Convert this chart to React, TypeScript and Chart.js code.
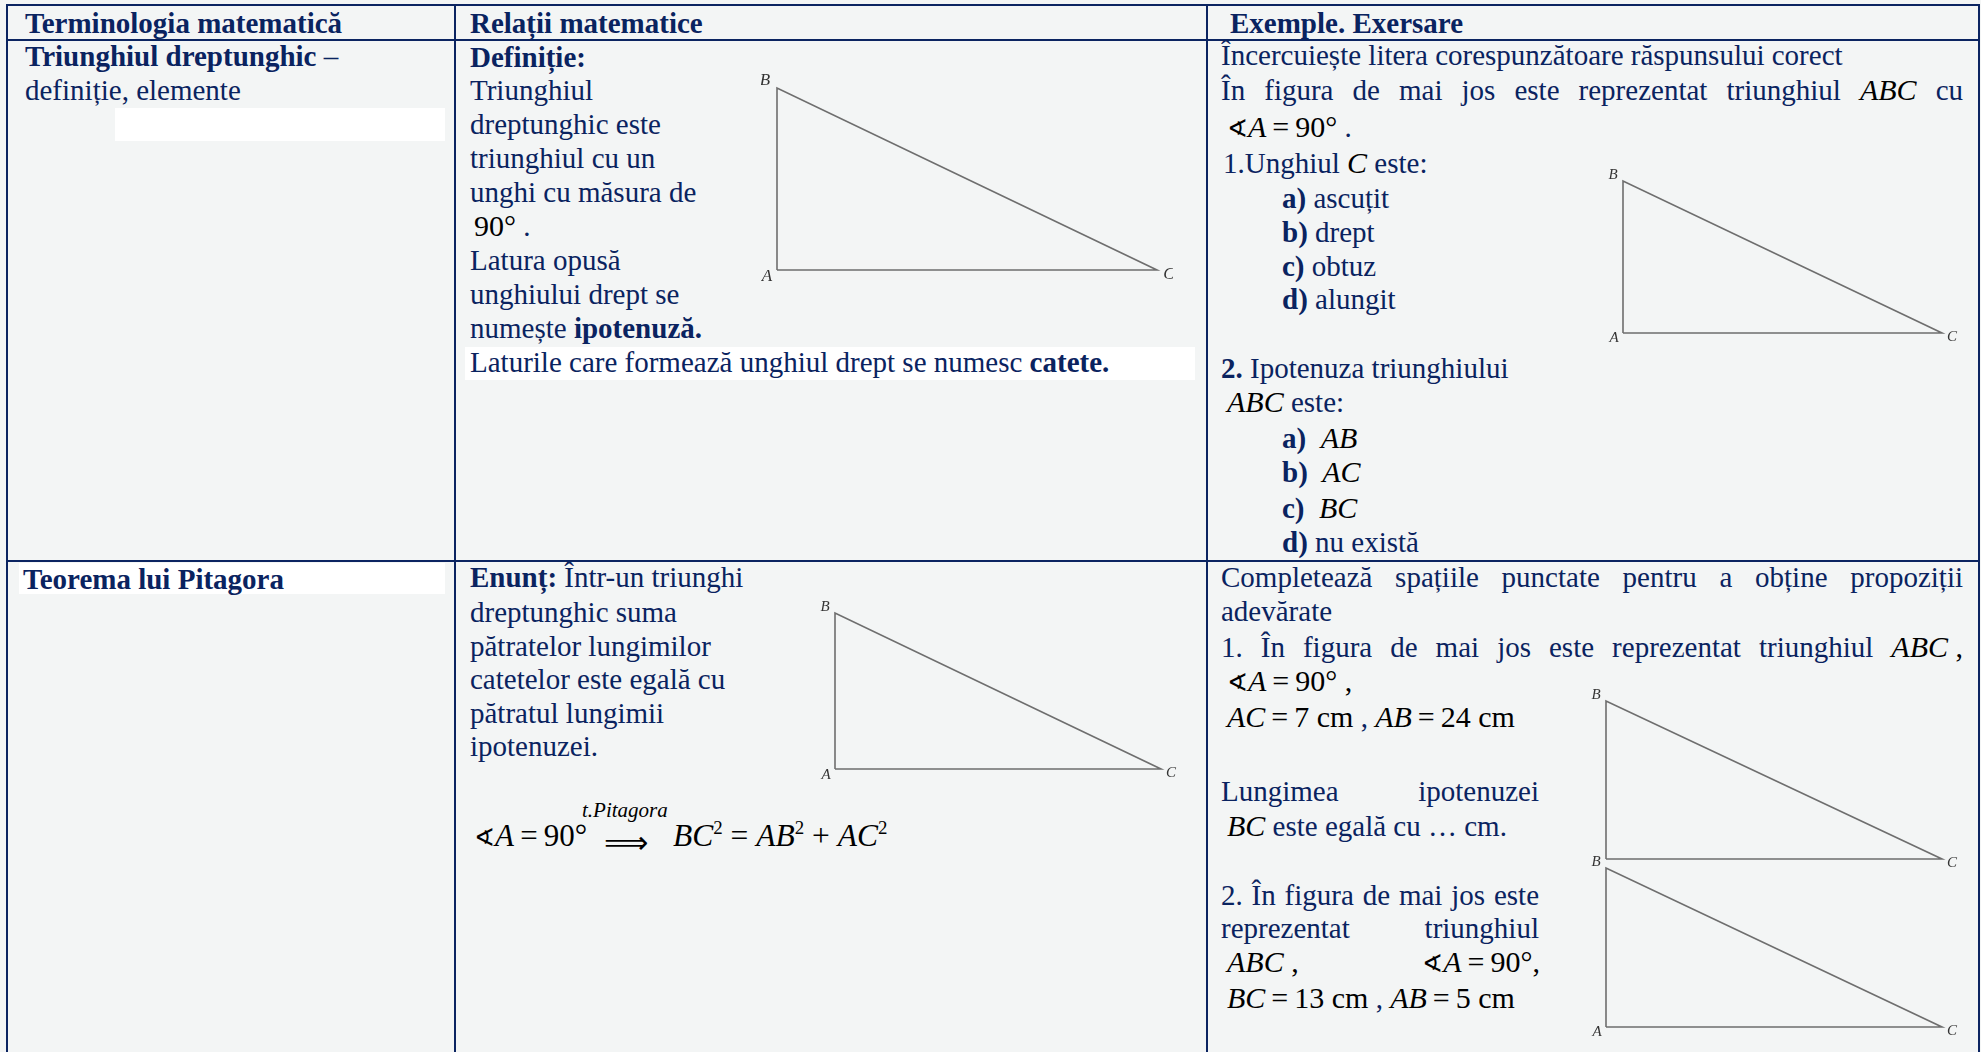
import React, { useEffect, useRef } from "react";
import { Chart, registerables } from "chart.js";

Chart.register(...registerables);

// ---------------- data ----------------
// vertices of the right triangle (A is the right angle), in the drawing's own units
const vertexNames = ["A", "B", "C"];
const catetaAB = 10; // vertical leg as drawn
const catetaAC = 21; // horizontal leg as drawn
const triangleX = [0, 0, catetaAC, 0]; // A, B, C, back to A
const triangleY = [0, catetaAB, 0, 0];

// ---------------- layout / style ----------------
const TEXT = "#0a2360";
const RULE = "#0b2461";
const BG = "#f3f5f5";
const SERIF = '"Liberation Serif", "Times New Roman", Times, serif';
const EQ = "\u2009=\u2009";

type Fig = {
  ax: number;
  ay: number;
  by: number;
  cx: number;
  font: number;
  show: boolean[];
  off: number[][];
};

const figures: Fig[] = [
  { ax: 777, ay: 270, by: 88, cx: 1157, font: 17, show: [true, true, true], off: [[-10, 7], [-12, -7], [12, 5]] },
  { ax: 1623, ay: 333, by: 181, cx: 1942, font: 15, show: [true, true, true], off: [[-9, 5], [-10, -6], [10, 4]] },
  { ax: 835, ay: 769, by: 613, cx: 1161, font: 15, show: [true, true, true], off: [[-9, 6], [-10, -6], [10, 4]] },
  { ax: 1606, ay: 859, by: 701, cx: 1942, font: 15, show: [false, true, true], off: [[-9, 5], [-10, -6], [10, 4]] },
  { ax: 1606, ay: 1027, by: 868, cx: 1942, font: 15, show: [true, true, true], off: [[-9, 5], [-10, -6], [10, 4]] },
];

const PAD = 16;

function Triangle({ fig }: { fig: Fig }) {
  const ref = useRef<HTMLCanvasElement | null>(null);
  const w = fig.cx - fig.ax + PAD * 2;
  const h = fig.ay - fig.by + PAD * 2;
  useEffect(() => {
    if (!ref.current) return;
    const labelPlugin = {
      id: "vertexLabels",
      afterDatasetsDraw(chart: any) {
        const meta = chart.getDatasetMeta(0);
        const ctx = chart.ctx;
        ctx.save();
        ctx.font = `italic ${fig.font}px ${SERIF}`;
        ctx.fillStyle = "#333333";
        ctx.textAlign = "center";
        ctx.textBaseline = "middle";
        vertexNames.forEach((name, i) => {
          if (!fig.show[i]) return;
          const p = meta.data[i];
          ctx.fillText(name, p.x + fig.off[i][0], p.y + fig.off[i][1]);
        });
        ctx.restore();
      },
    };
    const chart = new Chart(ref.current, {
      type: "scatter",
      data: {
        datasets: [
          {
            data: triangleX.map((x, i) => ({ x, y: triangleY[i] })),
            showLine: true,
            borderColor: "#6e6e6e",
            borderWidth: 1.6,
            pointRadius: 0,
            fill: false,
            tension: 0,
            clip: false as any,
          },
        ],
      },
      options: {
        animation: false,
        responsive: false,
        events: [],
        layout: { padding: PAD },
        plugins: { legend: { display: false }, tooltip: { enabled: false } },
        scales: {
          x: { type: "linear", display: false, min: 0, max: catetaAC },
          y: { type: "linear", display: false, min: 0, max: catetaAB },
        },
      },
      plugins: [labelPlugin],
    });
    return () => chart.destroy();
  }, []);
  return (
    <canvas
      ref={ref}
      width={w}
      height={h}
      style={{ position: "absolute", left: fig.ax - PAD, top: fig.by - PAD, width: w, height: h }}
    />
  );
}

function Ln({ x, b, w, j, children }: { x: number; b: number; w?: number; j?: boolean; children: any }) {
  return (
    <div
      style={{
        position: "absolute",
        left: x,
        top: b - 27,
        width: w ?? 760,
        height: 34,
        lineHeight: "34px",
        fontSize: 29,
        whiteSpace: j ? "normal" : "nowrap",
        textAlign: j ? "justify" : "left",
        textAlignLast: (j ? "justify" : "auto") as any,
        color: TEXT,
      }}
    >
      {children}
    </div>
  );
}

const M = ({ children }: any) => (
  <span style={{ color: "#000", fontSize: 30, display: "inline-block", whiteSpace: "nowrap" }}>{children}</span>
);
const I = ({ children }: any) => <i>{children}</i>;
const B = ({ children }: any) => <b>{children}</b>;
const Ang = () => <span style={{ fontFamily: '"DejaVu Serif", serif', fontSize: 25 }}>∢</span>;
const Sup = ({ children }: any) => (
  <span style={{ fontSize: "0.6em", position: "relative", top: "-0.62em" }}>{children}</span>
);

function Rect({ x, y, w, h, c }: { x: number; y: number; w: number; h: number; c: string }) {
  return <div style={{ position: "absolute", left: x, top: y, width: w, height: h, background: c }} />;
}

export default function App() {
  return (
    <div
      style={{
        position: "fixed",
        left: 0,
        top: 0,
        width: 1981,
        height: 1052,
        overflow: "hidden",
        background: BG,
        fontFamily: SERIF,
        color: TEXT,
      }}
    >
      {/* white highlight fragments */}
      <Rect x={115} y={108} w={330} h={33} c="#ffffff" />
      <Rect x={465} y={347} w={730} h={33} c="#ffffff" />
      <Rect x={19} y={563} w={426} h={31} c="#ffffff" />

      {/* table rules */}
      <Rect x={6} y={4} w={1974} h={2} c={RULE} />
      <Rect x={6} y={39} w={1974} h={2} c={RULE} />
      <Rect x={6} y={560} w={1974} h={2} c={RULE} />
      <Rect x={6} y={4} w={2} h={1048} c={RULE} />
      <Rect x={454} y={4} w={2} h={1048} c={RULE} />
      <Rect x={1206} y={4} w={2} h={1048} c={RULE} />
      <Rect x={1978} y={4} w={2} h={1048} c={RULE} />

      {/* header */}
      <Ln x={25} b={33}><B>Terminologia matematică</B></Ln>
      <Ln x={470} b={33}><B>Relații matematice</B></Ln>
      <Ln x={1230} b={33}><B>Exemple. Exersare</B></Ln>

      {/* column 1 */}
      <Ln x={25} b={66}><B>Triunghiul dreptunghic</B> –</Ln>
      <Ln x={25} b={100}>definiție, elemente</Ln>
      <Ln x={23} b={589}><B>Teorema lui Pitagora</B></Ln>

      {/* column 2, row 1 */}
      <Ln x={470} b={67}><B>Definiție:</B></Ln>
      <Ln x={470} b={100}>Triunghiul</Ln>
      <Ln x={470} b={134}>dreptunghic este</Ln>
      <Ln x={470} b={168}>triunghiul cu un</Ln>
      <Ln x={470} b={202}>unghi cu măsura de</Ln>
      <Ln x={474} b={236}><M>90°</M> .</Ln>
      <Ln x={470} b={270}>Latura opusă</Ln>
      <Ln x={470} b={304}>unghiului drept se</Ln>
      <Ln x={470} b={338}>numește <B>ipotenuză.</B></Ln>
      <Ln x={470} b={372}>Laturile care formează unghiul drept se numesc <B>catete.</B></Ln>

      {/* column 2, row 2 */}
      <Ln x={470} b={587}><B>Enunț:</B> Într-un triunghi</Ln>
      <Ln x={470} b={622}>dreptunghic suma</Ln>
      <Ln x={470} b={656}>pătratelor lungimilor</Ln>
      <Ln x={470} b={689}>catetelor este egală cu</Ln>
      <Ln x={470} b={723}>pătratul lungimii</Ln>
      <Ln x={470} b={756}>ipotenuzei.</Ln>
      <div style={{ position: "absolute", left: 582, top: 797, fontSize: 21, fontStyle: "italic", color: "#000", whiteSpace: "nowrap", lineHeight: "26px" }}>
        t.Pitagora
      </div>
      <div style={{ position: "absolute", left: 474, top: 818, fontSize: 31, color: "#000", whiteSpace: "nowrap", lineHeight: "36px" }}>
        <span style={{ fontFamily: '"DejaVu Serif", serif', fontSize: 25 }}>∢</span><I>A</I>{EQ}90°
      </div>
      <div style={{ position: "absolute", left: 604, top: 824, fontSize: 31, color: "#000", whiteSpace: "nowrap", lineHeight: "36px", fontFamily: '"DejaVu Sans", sans-serif' }}>
        ⟹
      </div>
      <div style={{ position: "absolute", left: 673, top: 818, fontSize: 31.5, color: "#000", whiteSpace: "nowrap", lineHeight: "36px" }}>
        <I>BC</I><Sup>2</Sup> = <I>AB</I><Sup>2</Sup> + <I>AC</I><Sup>2</Sup>
      </div>

      {/* column 3, row 1 */}
      <Ln x={1221} b={65}>Încercuiește litera corespunzătoare răspunsului corect</Ln>
      <Ln x={1221} b={100} w={742} j>
        În figura de mai jos este reprezentat triunghiul <M><I>ABC</I></M> cu
      </Ln>
      <Ln x={1227} b={137}><M><Ang /><I>A</I>{EQ}90°</M> .</Ln>
      <Ln x={1223} b={173}>1.Unghiul <M><I>C</I></M> este:</Ln>
      <Ln x={1282} b={208}><B>a)</B> ascuțit</Ln>
      <Ln x={1282} b={242}><B>b)</B> drept</Ln>
      <Ln x={1282} b={276}><B>c)</B> obtuz</Ln>
      <Ln x={1282} b={309}><B>d)</B> alungit</Ln>
      <Ln x={1221} b={378}><B>2.</B> Ipotenuza triunghiului</Ln>
      <Ln x={1227} b={412}><M><I>ABC</I></M> este:</Ln>
      <Ln x={1282} b={448}><B>a)</B>&nbsp; <M><I>AB</I></M></Ln>
      <Ln x={1282} b={482}><B>b)</B>&nbsp; <M><I>AC</I></M></Ln>
      <Ln x={1282} b={518}><B>c)</B>&nbsp; <M><I>BC</I></M></Ln>
      <Ln x={1282} b={552}><B>d)</B> nu există</Ln>

      {/* column 3, row 2 */}
      <Ln x={1221} b={587} w={742} j>Completează spațiile punctate pentru a obține propoziții</Ln>
      <Ln x={1221} b={621}>adevărate</Ln>
      <Ln x={1221} b={657} w={742} j>
        1. În figura de mai jos este reprezentat triunghiul <M><I>ABC</I> ,</M>
      </Ln>
      <Ln x={1227} b={691}><M><Ang /><I>A</I>{EQ}90° ,</M></Ln>
      <Ln x={1227} b={727}><M><I>AC</I>{EQ}7 cm</M> , <M><I>AB</I>{EQ}24 cm</M></Ln>
      <Ln x={1221} b={801} w={318} j>Lungimea ipotenuzei</Ln>
      <Ln x={1227} b={836}><M><I>BC</I></M> este egală cu … cm.</Ln>
      <Ln x={1221} b={905} w={318} j>2. În figura de mai jos este</Ln>
      <Ln x={1221} b={938} w={318} j>reprezentat triunghiul</Ln>
      <Ln x={1227} b={972} w={313} j>
        <M><I>ABC</I> ,</M> <M><Ang /><I>A</I>{EQ}90°,</M>
      </Ln>
      <Ln x={1227} b={1008}><M><I>BC</I>{EQ}13 cm</M> , <M><I>AB</I>{EQ}5 cm</M></Ln>

      {figures.map((f, i) => (
        <Triangle key={i} fig={f} />
      ))}
    </div>
  );
}
